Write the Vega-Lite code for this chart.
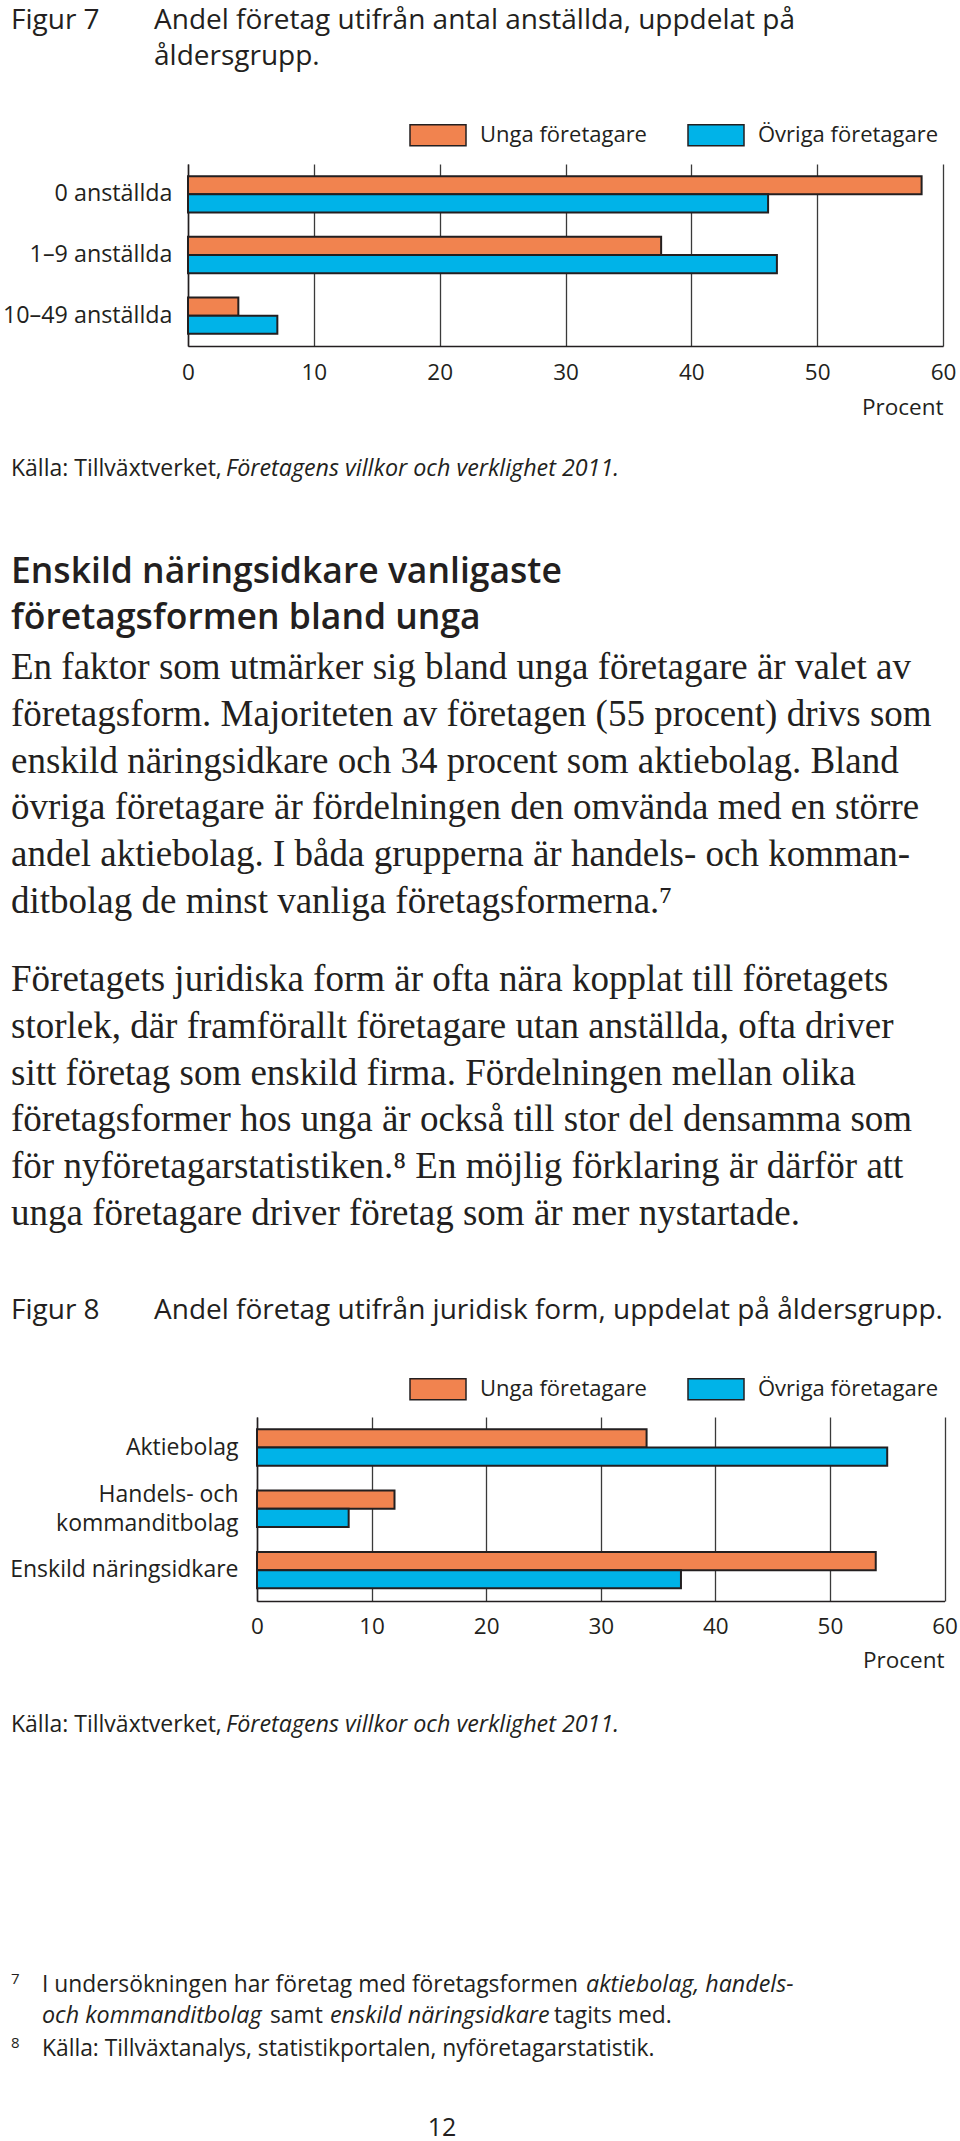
{
  "$schema": "https://vega.github.io/schema/vega-lite/v6.json",
  "background": "white",
  "padding": 0,
  "spacing": 0,
  "bounds": "flush",
  "resolve": {"scale": {"color": "independent"}, "legend": {"color": "independent"}},
  "config": {
    "view": {"stroke": null},
    "font": "Open Sans",
    "text": {"font": "Open Sans", "color": "#231f20", "align": "left", "baseline": "alphabetic"},
    "axis": {"labelFont": "Open Sans", "titleFont": "Open Sans", "labelColor": "#231f20", "titleColor": "#231f20", "labelFontSize": 22.5, "titleFontSize": 22.5, "titleFontWeight": "normal"},
    "legend": {"labelFont": "Open Sans", "labelColor": "#231f20", "labelFontSize": 22}
  },
  "vconcat": [
    {
      "width": 960, "height": 163,
      "layer": [
        {"data": {"values": [{"t": "Figur 7"}]}, "mark": {"type": "text", "x": 10, "y": 28, "fontSize": 28}, "encoding": {"text": {"field": "t"}}},
        {"data": {"values": [{"t": "Andel företag utifrån antal anställda, uppdelat på\nåldersgrupp."}]}, "mark": {"type": "text", "x": 153, "y": 28, "fontSize": 28, "lineBreak": "\n", "lineHeight": 36}, "encoding": {"text": {"field": "t"}}},
        {"data": {"values": [{}]}, "mark": {"type": "rule", "x": 9, "x2": 943, "y": 87.5, "y2": 87.5, "color": "#5a5a5a", "strokeWidth": 2}, "encoding": {}}
      ]
    },
    {
      "width": 960, "height": 182,
      "data": {"values": [
        {"k": "0 anställda", "g": "Unga företagare", "v": 58.3},
        {"k": "0 anställda", "g": "Övriga företagare", "v": 46.1},
        {"k": "1–9 anställda", "g": "Unga företagare", "v": 37.6},
        {"k": "1–9 anställda", "g": "Övriga företagare", "v": 46.8},
        {"k": "10–49 anställda", "g": "Unga företagare", "v": 4.0},
        {"k": "10–49 anställda", "g": "Övriga företagare", "v": 7.1}
      ]},
      "mark": {"type": "bar", "stroke": "#231f20", "strokeWidth": 2},
      "encoding": {
        "y": {"field": "k", "type": "nominal", "sort": ["0 anställda", "1–9 anställda", "10–49 anställda"],
          "scale": {"paddingInner": 0.4, "paddingOuter": 0.2},
          "axis": {"title": null, "offset": -187, "ticks": false, "labelPadding": 16, "labelFontSize": 23.3, "labelLimit": 400, "domainColor": "#231f20", "domainWidth": 1.5, "grid": false}},
        "x": {"field": "v", "type": "quantitative",
          "scale": {"domain": [0, 60], "range": [187, 942], "nice": false},
          "axis": {"values": [0, 10, 20, 30, 40, 50, 60], "grid": true, "gridColor": "#3a3a3a", "gridWidth": 1.3, "gridOpacity": 1, "ticks": false, "labelPadding": 15, "labelFlush": false, "labelOverlap": false, "domainColor": "#231f20", "domainWidth": 1.5, "title": "Procent", "titleX": 942, "titleY": 68, "titleAlign": "right", "titleBaseline": "alphabetic"}},
        "yOffset": {"field": "g", "type": "nominal", "sort": ["Unga företagare", "Övriga företagare"]},
        "color": {"field": "g", "type": "nominal",
          "scale": {"domain": ["Unga företagare", "Övriga företagare"], "range": ["#F1834F", "#00B3E8"]},
          "legend": {"orient": "none", "legendX": 408, "legendY": -58, "direction": "horizontal", "title": null, "symbolType": "M-1,-0.375H1V0.375H-1Z", "symbolSize": 3136, "symbolStrokeColor": "#231f20", "symbolStrokeWidth": 1.5, "symbolOpacity": 1, "labelOffset": 13, "columnPadding": 38, "labelLimit": 400}}
      }
    },
    {
      "width": 960, "height": 1071,
      "layer": [
        {"data": {"values": [{}]}, "mark": {"type": "rule", "x": 9, "x2": 943, "y": 98, "y2": 98, "color": "#5a5a5a", "strokeWidth": 1.8}, "encoding": {}},
        {"data": {"values": [{"t": "Källa: Tillväxtverket,"}]}, "mark": {"type": "text", "x": 10, "y": 130, "fontSize": 23}, "encoding": {"text": {"field": "t"}}},
        {"data": {"values": [{"t": "Företagens villkor och verklighet 2011."}]}, "mark": {"type": "text", "x": 225, "y": 130, "fontSize": 23.3, "fontStyle": "italic"}, "encoding": {"text": {"field": "t"}}},
        {"data": {"values": [{"t": "Enskild näringsidkare vanligaste\nföretagsformen bland unga"}]}, "mark": {"type": "text", "x": 10, "y": 237, "fontSize": 35.5, "fontWeight": 600, "lineBreak": "\n", "lineHeight": 46}, "encoding": {"text": {"field": "t"}}},
        {"data": {"values": [{"t": "En faktor som utmärker sig bland unga företagare är valet av\nföretagsform. Majoriteten av företagen (55 procent) drivs som\nenskild näringsidkare och 34 procent som aktiebolag. Bland\növriga företagare är fördelningen den omvända med en större\nandel aktiebolag. I båda grupperna är handels- och komman-\nditbolag de minst vanliga företagsformerna.⁷"}]}, "mark": {"type": "text", "x": 10, "y": 333, "font": "Liberation Serif", "fontSize": 37, "lineBreak": "\n", "lineHeight": 46.8}, "encoding": {"text": {"field": "t"}}},
        {"data": {"values": [{"t": "Företagets juridiska form är ofta nära kopplat till företagets\nstorlek, där framförallt företagare utan anställda, ofta driver\nsitt företag som enskild firma. Fördelningen mellan olika\nföretagsformer hos unga är också till stor del densamma som\nför nyföretagarstatistiken.⁸ En möjlig förklaring är därför att\nunga företagare driver företag som är mer nystartade."}]}, "mark": {"type": "text", "x": 10, "y": 645, "font": "Liberation Serif", "fontSize": 37, "lineBreak": "\n", "lineHeight": 46.8}, "encoding": {"text": {"field": "t"}}},
        {"data": {"values": [{"t": "Figur 8"}]}, "mark": {"type": "text", "x": 10, "y": 973, "fontSize": 28}, "encoding": {"text": {"field": "t"}}},
        {"data": {"values": [{"t": "Andel företag utifrån juridisk form, uppdelat på åldersgrupp."}]}, "mark": {"type": "text", "x": 153, "y": 973, "fontSize": 28}, "encoding": {"text": {"field": "t"}}},
        {"data": {"values": [{}]}, "mark": {"type": "rule", "x": 9, "x2": 943, "y": 997, "y2": 997, "color": "#5a5a5a", "strokeWidth": 2}, "encoding": {}}
      ]
    },
    {
      "width": 960, "height": 184,
      "data": {"values": [
        {"k": "Aktiebolag", "g": "Unga företagare", "v": 34.0},
        {"k": "Aktiebolag", "g": "Övriga företagare", "v": 55.0},
        {"k": "Handels- och kommanditbolag", "g": "Unga företagare", "v": 12.0},
        {"k": "Handels- och kommanditbolag", "g": "Övriga företagare", "v": 8.0},
        {"k": "Enskild näringsidkare", "g": "Unga företagare", "v": 54.0},
        {"k": "Enskild näringsidkare", "g": "Övriga företagare", "v": 37.0}
      ]},
      "mark": {"type": "bar", "stroke": "#231f20", "strokeWidth": 2},
      "encoding": {
        "y": {"field": "k", "type": "nominal", "sort": ["Aktiebolag", "Handels- och kommanditbolag", "Enskild näringsidkare"],
          "scale": {"paddingInner": 0.4, "paddingOuter": 0.2},
          "axis": {"title": null, "offset": -256, "ticks": false, "labelPadding": 19, "labelFontSize": 23, "labelLimit": 400, "labelLineHeight": 29,
            "labelExpr": "datum.label === 'Handels- och kommanditbolag' ? ['Handels- och', 'kommanditbolag'] : datum.label",
            "labelOffset": {"condition": {"test": "datum.value === 'Handels- och kommanditbolag'", "value": -14.5}, "value": 0},
            "domainColor": "#231f20", "domainWidth": 1.5, "grid": false}},
        "x": {"field": "v", "type": "quantitative",
          "scale": {"domain": [0, 60], "range": [256, 943.5], "nice": false},
          "axis": {"values": [0, 10, 20, 30, 40, 50, 60], "grid": true, "gridColor": "#3a3a3a", "gridWidth": 1.3, "gridOpacity": 1, "ticks": false, "labelPadding": 14, "labelFlush": false, "labelOverlap": false, "domainColor": "#231f20", "domainWidth": 1.5, "title": "Procent", "titleX": 943, "titleY": 66, "titleAlign": "right", "titleBaseline": "alphabetic"}},
        "yOffset": {"field": "g", "type": "nominal", "sort": ["Unga företagare", "Övriga företagare"]},
        "color": {"field": "g", "type": "nominal",
          "scale": {"domain": ["Unga företagare", "Övriga företagare"], "range": ["#F1834F", "#00B3E8"]},
          "legend": {"orient": "none", "legendX": 408, "legendY": -57, "direction": "horizontal", "title": null, "symbolType": "M-1,-0.375H1V0.375H-1Z", "symbolSize": 3136, "symbolStrokeColor": "#231f20", "symbolStrokeWidth": 1.5, "symbolOpacity": 1, "labelOffset": 13, "columnPadding": 38, "labelLimit": 400}}
      }
    },
    {
      "width": 960, "height": 541,
      "layer": [
        {"data": {"values": [{}]}, "mark": {"type": "rule", "x": 9, "x2": 943, "y": 97, "y2": 97, "color": "#5a5a5a", "strokeWidth": 1.8}, "encoding": {}},
        {"data": {"values": [{"t": "Källa: Tillväxtverket,"}]}, "mark": {"type": "text", "x": 10, "y": 130.5, "fontSize": 23}, "encoding": {"text": {"field": "t"}}},
        {"data": {"values": [{"t": "Företagens villkor och verklighet 2011."}]}, "mark": {"type": "text", "x": 225, "y": 130.5, "fontSize": 23.3, "fontStyle": "italic"}, "encoding": {"text": {"field": "t"}}},
        {"data": {"values": [{"t": "7"}]}, "mark": {"type": "text", "x": 10, "y": 383, "fontSize": 15}, "encoding": {"text": {"field": "t"}}},
        {"data": {"values": [{"t": "I undersökningen har företag med företagsformen"}]}, "mark": {"type": "text", "x": 41, "y": 391, "fontSize": 22.8}, "encoding": {"text": {"field": "t"}}},
        {"data": {"values": [{"t": "aktiebolag, handels-"}]}, "mark": {"type": "text", "x": 585, "y": 391, "fontSize": 23.3, "fontStyle": "italic"}, "encoding": {"text": {"field": "t"}}},
        {"data": {"values": [{"t": "och kommanditbolag"}]}, "mark": {"type": "text", "x": 41, "y": 422, "fontSize": 23.3, "fontStyle": "italic"}, "encoding": {"text": {"field": "t"}}},
        {"data": {"values": [{"t": "samt"}]}, "mark": {"type": "text", "x": 269, "y": 422, "fontSize": 22.8}, "encoding": {"text": {"field": "t"}}},
        {"data": {"values": [{"t": "enskild näringsidkare"}]}, "mark": {"type": "text", "x": 329, "y": 422, "fontSize": 23.3, "fontStyle": "italic"}, "encoding": {"text": {"field": "t"}}},
        {"data": {"values": [{"t": "tagits med."}]}, "mark": {"type": "text", "x": 553, "y": 422, "fontSize": 22.8}, "encoding": {"text": {"field": "t"}}},
        {"data": {"values": [{"t": "8"}]}, "mark": {"type": "text", "x": 10, "y": 447, "fontSize": 15}, "encoding": {"text": {"field": "t"}}},
        {"data": {"values": [{"t": "Källa: Tillväxtanalys, statistikportalen, nyföretagarstatistik."}]}, "mark": {"type": "text", "x": 41, "y": 455, "fontSize": 22.8}, "encoding": {"text": {"field": "t"}}},
        {"data": {"values": [{"t": "12"}]}, "mark": {"type": "text", "x": 441, "y": 535, "fontSize": 25, "align": "center"}, "encoding": {"text": {"field": "t"}}}
      ]
    }
  ]
}
